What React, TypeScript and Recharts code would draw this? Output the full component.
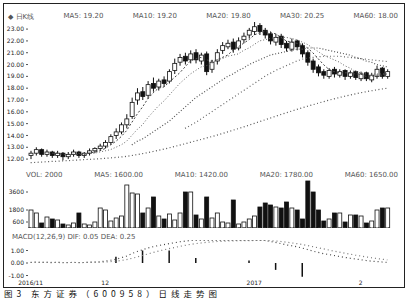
import { ComposedChart, Bar, Line, XAxis, YAxis, ReferenceLine } from 'recharts';

// trading days, 2016/11/11 .. 2017/02/22
const dates = [
  '16/11/11', '16/11/14', '16/11/15', '16/11/16', '16/11/17', '16/11/18', '16/11/21', '16/11/22', '16/11/23', '16/11/24',
  '16/11/25', '16/11/28', '16/11/29', '16/11/30', '16/12/01', '16/12/02', '16/12/05', '16/12/06', '16/12/07', '16/12/08',
  '16/12/09', '16/12/12', '16/12/13', '16/12/14', '16/12/15', '16/12/16', '16/12/19', '16/12/20', '16/12/21', '16/12/22',
  '16/12/23', '16/12/26', '16/12/27', '16/12/28', '16/12/29', '16/12/30', '17/01/03', '17/01/04', '17/01/05', '17/01/06',
  '17/01/09', '17/01/10', '17/01/11', '17/01/12', '17/01/13', '17/01/16', '17/01/17', '17/01/18', '17/01/19', '17/01/20',
  '17/01/23', '17/01/24', '17/01/25', '17/01/26', '17/02/03', '17/02/06', '17/02/07', '17/02/08', '17/02/09', '17/02/10',
  '17/02/13', '17/02/14', '17/02/15', '17/02/16', '17/02/17', '17/02/20', '17/02/21', '17/02/22',
];

const opens = [
  12.3, 12.5, 12.8, 12.4, 12.6, 12.3, 12.5, 12.2, 12.4, 12.6, 12.3, 12.5, 12.7, 12.9, 13.1, 13.4, 14.0, 14.3, 14.9, 15.6,
  17.0, 17.7, 17.4, 18.4, 18.1, 18.7, 18.6, 19.5, 20.2, 20.7, 20.4, 21.0, 20.3, 20.9, 19.6, 20.3, 21.2, 21.5, 21.9, 21.4,
  22.1, 22.5, 22.8, 23.3, 22.9, 22.6, 21.9, 22.4, 21.8, 21.3, 22.0, 21.6, 21.0, 20.3, 19.8, 19.4, 19.0, 19.6, 19.1, 19.5,
  19.0, 19.4, 18.8, 19.3, 18.7, 19.0, 19.7, 19.0,
];
const closes = [
  12.5, 12.8, 12.4, 12.6, 12.3, 12.5, 12.2, 12.4, 12.6, 12.3, 12.5, 12.7, 12.9, 13.1, 13.4, 13.9, 14.3, 14.9, 15.4, 16.8,
  17.6, 17.3, 18.3, 18.0, 18.6, 18.4, 19.4, 20.1, 20.6, 20.3, 20.9, 20.4, 20.8, 19.4, 20.2, 21.0, 21.6, 21.8, 21.3, 22.0,
  22.4, 22.9, 23.2, 22.8, 22.5, 22.0, 22.3, 21.7, 21.4, 21.9, 21.5, 20.9, 20.2, 19.6, 19.3, 19.1, 19.5, 19.2, 19.4, 19.0,
  19.3, 18.9, 19.2, 18.8, 19.1, 19.6, 19.0, 19.4,
];
const highs = [
  12.7, 13.0, 12.9, 12.8, 12.7, 12.7, 12.6, 12.6, 12.8, 12.7, 12.6, 12.9, 13.0, 13.3, 13.6, 14.1, 14.6, 15.1, 15.8, 17.2,
  18.0, 18.1, 18.6, 18.9, 18.8, 19.0, 19.6, 20.5, 20.9, 21.0, 21.2, 21.3, 21.0, 21.1, 20.4, 21.3, 21.9, 22.1, 22.2, 22.3,
  22.7, 23.1, 23.6, 23.5, 23.1, 22.8, 22.6, 22.6, 22.0, 22.2, 22.1, 21.8, 21.2, 20.5, 20.0, 19.6, 19.7, 19.8, 19.6, 19.6,
  19.5, 19.5, 19.4, 19.4, 19.3, 19.9, 19.8, 19.6,
];
const lows = [
  12.0, 12.3, 12.2, 12.2, 12.1, 12.1, 11.9, 12.0, 12.2, 12.1, 12.1, 12.3, 12.5, 12.7, 12.9, 13.2, 13.7, 14.1, 14.6, 15.4,
  16.6, 17.0, 17.1, 17.7, 17.8, 18.1, 18.4, 19.2, 19.9, 20.0, 20.1, 20.1, 20.0, 19.1, 19.3, 20.0, 20.9, 21.3, 21.0, 21.2,
  21.8, 22.2, 22.5, 22.5, 22.2, 21.7, 21.6, 21.4, 21.1, 21.1, 21.2, 20.6, 19.9, 19.3, 19.0, 18.8, 18.8, 18.9, 18.9, 18.7,
  18.8, 18.7, 18.6, 18.6, 18.5, 18.8, 18.8, 18.8,
];

const ma5 = [
  null, null, null, null, 12.5, 12.5, 12.4, 12.4, 12.4, 12.4, 12.4, 12.5, 12.6, 12.7, 12.9, 13.2, 13.5, 13.9, 14.4, 15.1,
  15.8, 16.4, 17.1, 17.6, 18.0, 18.1, 18.5, 18.9, 19.3, 19.8, 20.3, 20.5, 20.6, 20.4, 20.3, 20.4, 20.6, 20.8, 21.2, 21.5,
  21.8, 22.1, 22.5, 22.7, 22.8, 22.7, 22.6, 22.3, 22.0, 21.9, 21.8, 21.7, 21.4, 21.0, 20.5, 20.0, 19.6, 19.4, 19.3, 19.3,
  19.3, 19.2, 19.2, 19.0, 19.0, 19.1, 19.1, 19.2,
];
const ma10 = [
  null, null, null, null, null, null, null, null, null, 12.5, 12.4, 12.5, 12.5, 12.6, 12.7, 12.8, 13.0, 13.2, 13.5, 14.0,
  14.5, 14.9, 15.5, 16.0, 16.5, 16.9, 17.4, 17.9, 18.4, 18.8, 19.2, 19.5, 19.8, 19.9, 20.1, 20.4, 20.5, 20.7, 20.8, 20.9,
  21.2, 21.4, 21.7, 22.0, 22.1, 22.2, 22.3, 22.3, 22.3, 22.2, 22.1, 21.9, 21.7, 21.4, 21.1, 20.8, 20.6, 20.4, 20.2, 19.9,
  19.7, 19.4, 19.3, 19.2, 19.2, 19.2, 19.2, 19.2,
];
const ma20 = [
  null, null, null, null, null, null, null, null, null, null, null, null, null, null, null, null, null, null, null, 13.2,
  13.5, 13.7, 14.0, 14.3, 14.6, 14.9, 15.2, 15.6, 16.0, 16.4, 16.8, 17.2, 17.5, 17.8, 18.1, 18.4, 18.7, 19.0, 19.2, 19.5,
  19.7, 20.0, 20.2, 20.4, 20.6, 20.8, 20.9, 21.0, 21.1, 21.2, 21.3, 21.3, 21.4, 21.4, 21.4, 21.3, 21.2, 21.1, 21.0, 20.9,
  20.8, 20.6, 20.5, 20.3, 20.2, 20.0, 19.9, 19.8,
];
const ma30 = [
  null, null, null, null, null, null, null, null, null, null, null, null, null, null, null, null, null, null, null, null,
  null, null, null, null, null, null, null, null, null, 14.6, 14.85, 15.1, 15.4, 15.7, 16.0, 16.3, 16.6, 16.9, 17.2, 17.5,
  17.8, 18.1, 18.4, 18.7, 19.0, 19.25, 19.5, 19.7, 19.9, 20.1, 20.3, 20.45, 20.55, 20.6, 20.65, 20.7, 20.7, 20.7, 20.7, 20.65,
  20.6, 20.55, 20.5, 20.45, 20.4, 20.35, 20.3, 20.25,
];
const ma60 = [
  11.7, 11.72, 11.75, 11.78, 11.8, 11.82, 11.85, 11.87, 11.9, 11.92, 11.95, 11.98, 12.0, 12.03, 12.06, 12.1, 12.14, 12.18, 12.23, 12.3,
  12.38, 12.46, 12.55, 12.64, 12.74, 12.84, 12.95, 13.06, 13.18, 13.3, 13.42, 13.54, 13.66, 13.78, 13.9, 14.03, 14.16, 14.3, 14.44, 14.58,
  14.72, 14.87, 15.02, 15.17, 15.32, 15.47, 15.62, 15.77, 15.92, 16.06, 16.2, 16.34, 16.47, 16.6, 16.73, 16.86, 16.98, 17.1, 17.21, 17.32,
  17.42, 17.52, 17.61, 17.7, 17.78, 17.86, 17.93, 18.0,
];

const volumes = [
  1800, 1500, 500, 1100, 900, 800, 400, 300, 500, 1500, 400, 300, 600, 2000, 1800, 700, 1000, 1200, 4300, 3500,
  3400, 1500, 2000, 3100, 1200, 900, 1400, 800, 1500, 3600, 3600, 1300, 900, 3100, 1000, 1500, 600, 500, 2800, 400,
  600, 900, 1200, 2100, 2500, 2300, 2100, 2000, 2600, 2000, 1800, 900, 4700, 3600, 1800, 700, 900, 1500, 1500, 600,
  1300, 1300, 1200, 500, 700, 1800, 2000, 2000,
];

const dif = [
  0.05, 0.08, 0.04, 0.06, 0.03, 0.05, 0.02, 0.03, 0.05, 0.03, 0.04, 0.06, 0.08, 0.1, 0.15, 0.22, 0.3, 0.42, 0.55, 0.75,
  0.92, 1.05, 1.2, 1.3, 1.4, 1.47, 1.55, 1.62, 1.7, 1.75, 1.8, 1.8, 1.8, 1.8, 1.8, 1.8, 1.8, 1.8, 1.8, 1.8,
  1.8, 1.8, 1.8, 1.8, 1.8, 1.72, 1.65, 1.55, 1.45, 1.38, 1.3, 1.2, 1.08, 0.95, 0.85, 0.75, 0.68, 0.6, 0.52, 0.45,
  0.38, 0.32, 0.26, 0.2, 0.15, 0.12, 0.08, 0.05,
];
const dea = [
  0.04, 0.05, 0.05, 0.05, 0.05, 0.05, 0.04, 0.04, 0.04, 0.04, 0.04, 0.05, 0.05, 0.06, 0.08, 0.11, 0.15, 0.2, 0.27, 0.37,
  0.48, 0.6, 0.72, 0.84, 0.95, 1.05, 1.15, 1.24, 1.33, 1.41, 1.49, 1.55, 1.6, 1.65, 1.69, 1.72, 1.74, 1.76, 1.77, 1.78,
  1.79, 1.79, 1.8, 1.8, 1.8, 1.78, 1.76, 1.72, 1.67, 1.61, 1.55, 1.48, 1.4, 1.31, 1.22, 1.13, 1.04, 0.95, 0.87, 0.79,
  0.71, 0.63, 0.56, 0.49, 0.42, 0.36, 0.3, 0.25,
];
const macdHist = [
  0, 0, 0, 0, 0, 0, 0, 0, 0, 0, 0, 0, 0, 0, 0, 0, 0.5, 0, 0, 0,
  0, 1.0, 0, 0, 0, 0, 1.0, 0, 0, 0, 0, 0.4, 0, 0, 0, 0, 0, 0, 0, 0,
  0, 0.2, 0, 0, 0, 0, -0.55, 0, 0, 0, 0, -1.1, 0, 0, 0, 0, 0, 0, 0, 0,
  0, 0, 0, 0, 0, 0, 0, 0,
];

const priceTicks = [12, 13, 14, 15, 16, 17, 18, 19, 20, 21, 22, 23];
const volTicks = [600, 1800, 3600];
const macdTicks = [-1, 0, 1];
const xTickIdx = [0, 14, 42, 62];
const xTickText = ['2016/11', '12', '2017', '2'];

const rows = dates.map((d, i) => ({
  date: d,
  open: opens[i],
  close: closes[i],
  high: highs[i],
  low: lows[i],
  range: [lows[i], highs[i]],
  ma5: ma5[i],
  ma10: ma10[i],
  ma20: ma20[i],
  ma30: ma30[i],
  ma60: ma60[i],
  volume: volumes[i],
  dif: dif[i],
  dea: dea[i],
  hist: macdHist[i],
}));

const INK = '#111';
const FONT = 'DejaVu Sans, sans-serif';
const W = 398;
const MARGIN = { top: 0, right: 12, bottom: 0, left: 0 };

const Candle = (props: any) => {
  const { x, y, width, height, payload } = props;
  if (x == null || y == null) return null;
  const top = Math.min(y, y + height);
  const h = Math.abs(height);
  const ratio = h / (payload.high - payload.low || 1);
  const cx = x + width / 2;
  const bodyTop = top + (payload.high - Math.max(payload.open, payload.close)) * ratio;
  const bodyH = Math.max(1, Math.abs(payload.open - payload.close) * ratio);
  const up = payload.close >= payload.open;
  return (
    <g>
      <line x1={cx} x2={cx} y1={top} y2={top + h} stroke={INK} strokeWidth={1} />
      <rect x={x} y={bodyTop} width={width} height={bodyH} fill={up ? '#fff' : INK} stroke={INK} strokeWidth={0.8} />
    </g>
  );
};

const VolBar = (props: any) => {
  const { x, y, width, height, payload } = props;
  if (!height) return null;
  const up = payload.close >= payload.open;
  return <rect x={x} y={y} width={width} height={height} fill={up ? '#fff' : INK} stroke={INK} strokeWidth={0.8} />;
};

const tickStyle = { fontSize: 6, fill: '#222', fontFamily: FONT };
const header = { position: 'absolute' as const, fontSize: 7, color: '#555', fontFamily: FONT, whiteSpace: 'nowrap' as const };

export default function App() {
  const last = rows.length - 1;
  return (
    <div style={{ position: 'absolute', left: 0, top: 0, width: 411, height: 298, overflow: 'hidden', background: '#fff' }}>
      <div style={{ position: 'absolute', left: 3, top: 3, width: 402, height: 285, border: '1.5px solid #222', boxSizing: 'border-box' }} />

      <div style={{ ...header, left: 8, top: 12, width: 390, display: 'flex', justifyContent: 'space-between' }}>
        <span>◆ 日K线</span>
        <span>MA5: {ma5[last]!.toFixed(2)}</span>
        <span>MA10: {ma10[last]!.toFixed(2)}</span>
        <span>MA20: {ma20[last]!.toFixed(2)}</span>
        <span>MA30: {ma30[last]!.toFixed(2)}</span>
        <span>MA60: {ma60[last].toFixed(2)}</span>
      </div>

      <div style={{ position: 'absolute', left: 4, top: 22 }}>
        <ComposedChart width={W} height={143} data={rows} margin={MARGIN}>
          <XAxis dataKey="date" hide />
          <YAxis width={24} domain={[11.5, 23.6]} ticks={priceTicks} allowDataOverflow axisLine={false}
            tickSize={2} tickLine={{ stroke: '#555' }} tick={tickStyle} tickFormatter={(v: number) => v.toFixed(2)} />
          <Line dataKey="ma60" stroke="#555" strokeWidth={1.2} strokeDasharray="1 2.5" dot={false} isAnimationActive={false} connectNulls />
          <Line dataKey="ma30" stroke="#666" strokeWidth={1.2} strokeDasharray="1 2.5" dot={false} isAnimationActive={false} connectNulls />
          <Line dataKey="ma20" stroke="#555" strokeWidth={1.2} strokeDasharray="1 2" dot={false} isAnimationActive={false} connectNulls />
          <Line dataKey="ma10" stroke="#666" strokeWidth={1} strokeDasharray="1 2" dot={false} isAnimationActive={false} connectNulls />
          <Line dataKey="ma5" stroke="#444" strokeWidth={1} strokeDasharray="2 2" dot={false} isAnimationActive={false} connectNulls />
          <Bar dataKey="range" shape={Candle} barSize={4} isAnimationActive={false} />
        </ComposedChart>
      </div>

      <div style={{ ...header, left: 26, top: 171, width: 372, display: 'flex', justifyContent: 'space-between' }}>
        <span>VOL: {volumes[last]}</span>
        <span>MA5: 1600.00</span>
        <span>MA10: 1420.00</span>
        <span>MA20: 1780.00</span>
        <span>MA60: 1650.00</span>
      </div>

      <div style={{ position: 'absolute', left: 4, top: 180 }}>
        <ComposedChart width={W} height={48} data={rows} margin={MARGIN}>
          <XAxis dataKey="date" hide />
          <YAxis width={24} domain={[0, 4800]} ticks={volTicks} axisLine={false} tickSize={2}
            tickLine={{ stroke: '#555' }} tick={tickStyle} />
          <ReferenceLine y={0} stroke="#333" strokeDasharray="3 2" />
          <Bar dataKey="volume" shape={VolBar} barSize={4} isAnimationActive={false} />
        </ComposedChart>
      </div>

      <div style={{ ...header, left: 12, top: 233 }}>
        MACD(12,26,9)  DIF: {dif[last].toFixed(2)}  DEA: {dea[last].toFixed(2)}
      </div>

      <div style={{ position: 'absolute', left: 4, top: 240 }}>
        <ComposedChart width={W} height={50} data={rows} margin={MARGIN}>
          <XAxis dataKey="date" height={10} axisLine={false} tickLine={false} tickSize={0} tickMargin={1}
            ticks={xTickIdx.map((i) => dates[i])} interval={0} tick={tickStyle}
            tickFormatter={(d: string) => xTickText[xTickIdx.indexOf(dates.indexOf(d))]} />
          <YAxis width={24} domain={[-1.36, 1.84]} ticks={macdTicks} allowDataOverflow axisLine={false}
            tickSize={2} tickLine={{ stroke: '#555' }} tick={tickStyle} tickFormatter={(v: number) => v.toFixed(2)} />
          <Bar dataKey="hist" fill={INK} barSize={1.5} isAnimationActive={false} />
          <Line dataKey="dif" stroke="#444" strokeWidth={1.2} strokeDasharray="1 3" dot={false} isAnimationActive={false} />
          <Line dataKey="dea" stroke="#777" strokeWidth={1.2} strokeDasharray="1 3" dot={false} isAnimationActive={false} />
        </ComposedChart>
      </div>

      <div style={{ position: 'absolute', left: 4, top: 289, fontSize: 8.5, lineHeight: '9px', letterSpacing: 4, color: INK, fontFamily: 'Noto Sans CJK SC', whiteSpace: 'nowrap' }}>
        图3 东方证券（600958）日线走势图
      </div>
    </div>
  );
}
